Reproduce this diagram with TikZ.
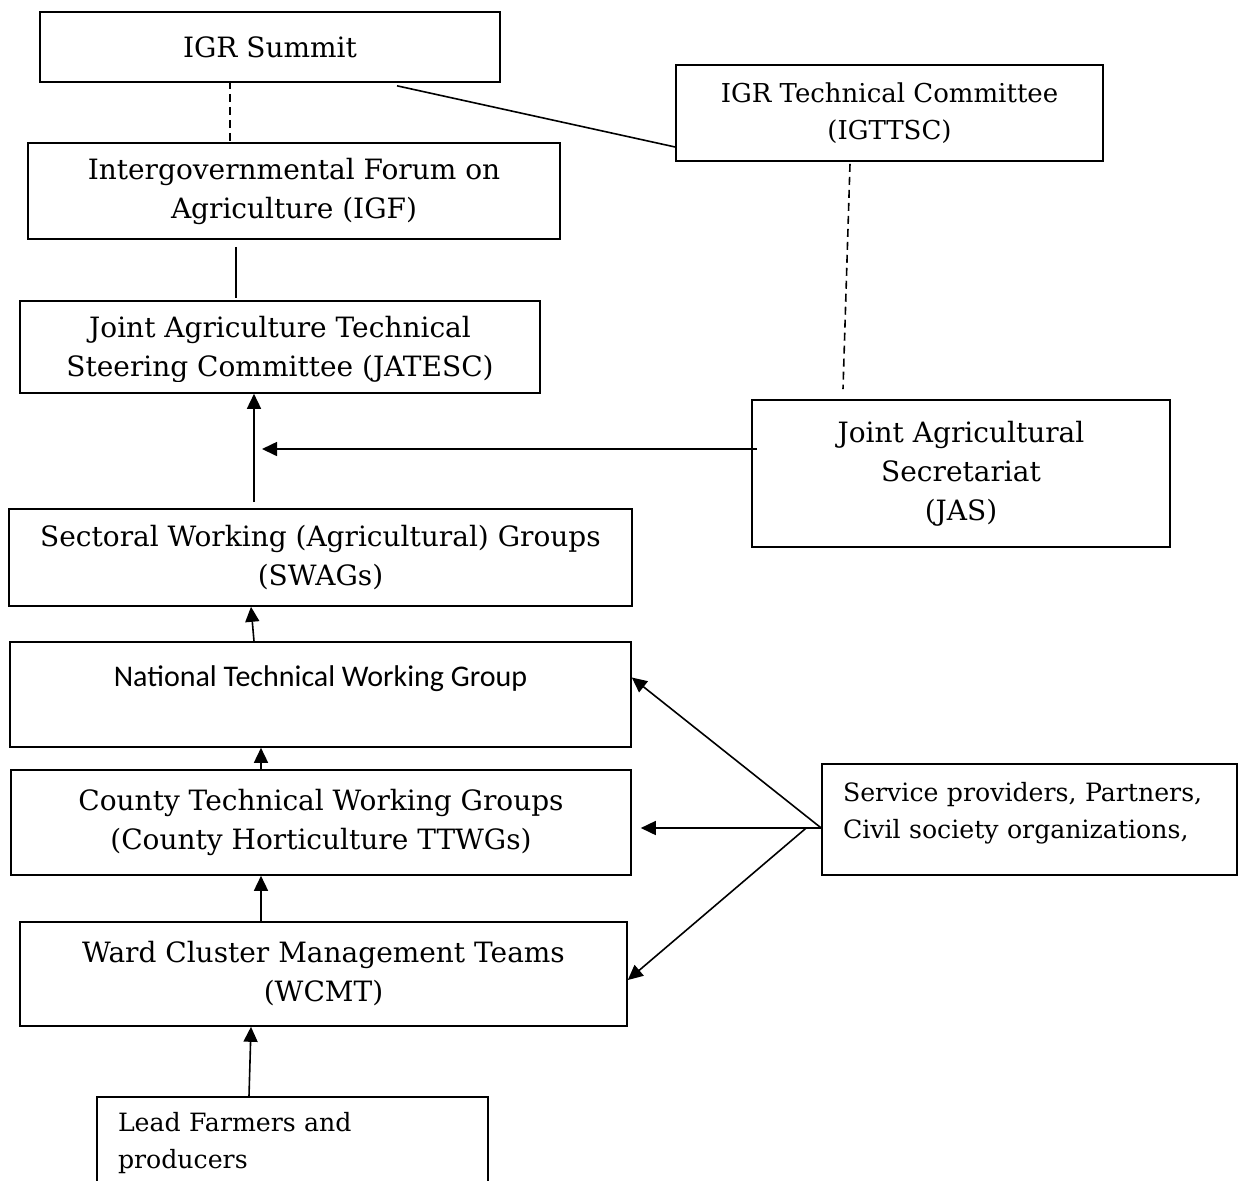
\documentclass[tikz,border=0pt]{standalone}
\usepackage{fontspec}
\setmainfont{DejaVu Serif}
\newfontfamily\calibri{Carlito}
\usetikzlibrary{arrows.meta}

\begin{document}
\begin{tikzpicture}[x=0.5pt, y=-0.5pt,
    box/.style = {draw, line width=0.8pt, inner sep=0pt, align=center, font=\fontsize{14}{19.5}\selectfont},
    smallbox/.style = {box, align=left, font=\fontsize{12.6}{18.5}\selectfont},
    link/.style = {line width=0.8pt},
    dashlink/.style = {link, dash pattern=on 4pt off 2.5pt},
    arrow/.style = {link, -{Triangle[length=7.5pt, width=7pt]}}]
    \clip (0,0) rectangle (1238,1180);

    % upper level
    \node[box, minimum width=230pt, minimum height=35pt] (summit) at (270,47) {IGR Summit};
    \node[box, minimum width=213.5pt, minimum height=48pt, font=\fontsize{13}{18.5}\selectfont] (igtc) at (889.5,113) {IGR Technical Committee\\(IGTTSC)};
    \node[box, minimum width=266pt, minimum height=48pt] (igf) at (294,191) {Intergovernmental Forum on\\Agriculture (IGF)};
    \node[box, minimum width=260pt, minimum height=46pt] (jatesc) at (280,347) {};
    \begin{scope}
        \clip (0,0) rectangle (1238,381);
        \node[box, draw=none] (jatesctext) at (280,349.5) {Joint Agriculture Technical\\Steering Committee (JATESC)};
    \end{scope}
    \node[box, minimum width=209pt, minimum height=73.5pt] (jas) at (961,473.5) {Joint Agricultural\\Secretariat\\(JAS)};

    % lower level
    \node[box, minimum width=311.5pt, minimum height=48.5pt] (swags) at (320.5,557.5) {Sectoral Working (Agricultural) Groups\\(SWAGs)};
    \node[box, minimum width=310.5pt, minimum height=52.5pt, font=\calibri\fontsize{15}{18}\selectfont] (ntwg) at (320.5,694.5) {National Technical Working Group\\~};
    \node[box, minimum width=310pt, minimum height=52.5pt] (ctwg) at (321,822.5) {County Technical Working Groups\\(County Horticulture TTWGs)};
    \node[smallbox, minimum width=207.5pt, minimum height=55.5pt, text width=186.5pt] (service) at (1029.5,819.5) {Service providers, Partners,\\Civil society organizations,\\[-9pt]~};
    \node[box, minimum width=303.5pt, minimum height=52pt] (wcmt) at (323.5,974) {Ward Cluster Management Teams\\(WCMT)};
    \node[smallbox, minimum width=195.5pt, minimum height=46pt, text width=174.5pt] (lead) at (292.5,1143) {Lead Farmers and\\producers};

    % links
    \draw[dashlink] ([xshift=-20pt,yshift=1pt]summit.south) -- ([xshift=-32pt,yshift=0.5pt]igf.north);
    \draw[link] ([xshift=63.5pt,yshift=-1.5pt]summit.south) -- ([yshift=-17pt]igtc.west);
    \draw[link] ([xshift=-29pt,yshift=-3.5pt]igf.south) -- ([xshift=-22pt,yshift=1pt]jatesc.north);
    \draw[dashlink] ([xshift=-19.75pt,yshift=-1pt]igtc.south) -- ([xshift=-59pt,yshift=5pt]jas.north);

    % arrows
    \draw[arrow] ([xshift=-33.25pt,yshift=3pt]swags.north) -- ([xshift=-13pt]jatesc.south);
    \draw[arrow] ([xshift=3pt,yshift=12.25pt]jas.west) coordinate (jasin) -- ([xshift=-9pt]jatesc.south |- jasin);
    \draw[arrow] ([xshift=-33.25pt]ntwg.north) -- ([xshift=-34.75pt]swags.south);
    \draw[arrow] ([xshift=-30pt]ctwg.north) -- ([xshift=-29.75pt]ntwg.south);
    \draw[arrow] ([xshift=-31.25pt]wcmt.north) -- ([xshift=-30pt]ctwg.south);
    \draw[arrow] ([xshift=-21.75pt]lead.north) -- ([xshift=-36.25pt]wcmt.south);

    \draw[arrow] ([yshift=-4.25pt]service.west) coordinate (spout) -- ([yshift=8.5pt]ntwg.east);
    \draw[arrow] (spout) -- ([xshift=4.5pt]ctwg.east |- spout);
    \draw[arrow] ([xshift=-7.5pt]spout) -- ([yshift=-3pt]wcmt.east);
\end{tikzpicture}
\end{document}
